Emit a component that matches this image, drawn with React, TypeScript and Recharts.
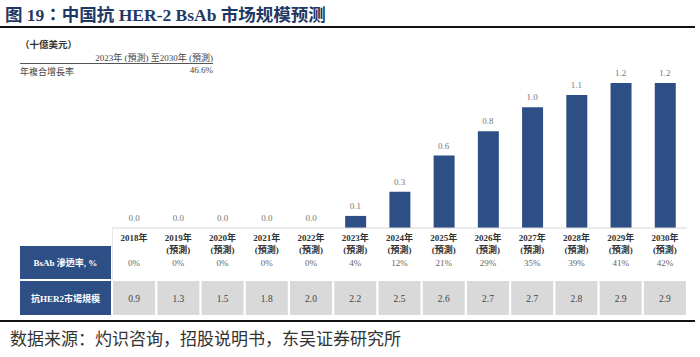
import React from 'react';
import { ComposedChart, Bar, Line, XAxis, YAxis, LabelList } from 'recharts';

const years = ['2018年', '2019年', '2020年', '2021年', '2022年', '2023年', '2024年', '2025年', '2026年', '2027年', '2028年', '2029年', '2030年'];
const forecastFlags = [false, true, true, true, true, true, true, true, true, true, true, true, true];
const bsabMarket = [0.0, 0.0, 0.0, 0.0, 0.0, 0.1, 0.3, 0.6, 0.8, 1.0, 1.1, 1.2, 1.2];
const penetration = ['0%', '0%', '0%', '0%', '0%', '4%', '12%', '21%', '29%', '35%', '39%', '41%', '42%'];
const her2Market = ['0.9', '1.3', '1.5', '1.8', '2.0', '2.2', '2.5', '2.6', '2.7', '2.7', '2.8', '2.9', '2.9'];
const rowLabels = ['BsAb 滲透率, %', '抗HER2市場規模'];

const data = years.map((y, i) => ({ year: y, value: bsabMarket[i] }));

const SERIF = "'Liberation Serif', 'Noto Sans CJK TC', serif";
const CJK = "'Noto Sans CJK SC', sans-serif";
const NAVY = '#2d4f86';

const TableTick = (props: any) => {
  const { x, y, payload, index } = props;
  const i = typeof index === 'number' ? index : years.indexOf(payload.value);
  return (
    <g>
      <text x={x} y={y + 5} textAnchor="middle" fontFamily={SERIF} fontSize={9} fontWeight="bold" fill="#333">
        {payload.value}
      </text>
      {forecastFlags[i] && (
        <text x={x} y={y + 17} textAnchor="middle" fontFamily={SERIF} fontSize={9} fontWeight="bold" fill="#333">
          (預測)
        </text>
      )}
      <text x={x} y={y + 30} textAnchor="middle" fontFamily={SERIF} fontSize={9} fill="#666">
        {penetration[i]}
      </text>
      <rect x={x - 21} y={y + 45} width={42} height={34} fill="#d9d9d9" />
      <text x={x} y={y + 66} textAnchor="middle" fontFamily={SERIF} fontSize={9.5} fill="#444">
        {her2Market[i]}
      </text>
    </g>
  );
};

export default function App() {
  return (
    <div style={{ position: 'absolute', left: 0, top: 0, width: 700, height: 357, background: '#fff' }}>
      <div style={{ position: 'absolute', left: 5, top: 1, fontFamily: SERIF, fontWeight: 'bold', fontSize: 17.5, color: '#1f3864', whiteSpace: 'nowrap' }}>
        图 19：中国抗 HER-2 BsAb 市场规模预测
      </div>
      <div style={{ position: 'absolute', left: 0, top: 26, width: 695, height: 2, background: '#111' }} />
      <div style={{ position: 'absolute', left: 20, top: 37, fontFamily: SERIF, fontWeight: 'bold', fontSize: 9.5, color: '#333' }}>（十億美元）</div>
      <div style={{ position: 'absolute', left: 20, top: 51, width: 193, textAlign: 'right', fontFamily: SERIF, fontSize: 9, color: '#444', whiteSpace: 'nowrap' }}>2023年 (預測) 至2030年 (預測)</div>
      <div style={{ position: 'absolute', left: 20, top: 63, width: 193, height: 1, background: '#555' }} />
      <div style={{ position: 'absolute', left: 20, top: 65, fontFamily: SERIF, fontSize: 9, color: '#444' }}>年複合增長率</div>
      <div style={{ position: 'absolute', left: 20, top: 65, width: 193, textAlign: 'right', fontFamily: SERIF, fontSize: 9, color: '#444' }}>46.6%</div>

      <div style={{ position: 'absolute', left: 0, top: 0 }}>
        <ComposedChart width={700} height={357} data={data} margin={{ top: 83, right: 13, bottom: 39, left: 112 }}>
          <XAxis dataKey="year" interval={0} tickLine={false} axisLine={{ stroke: '#d6d6d6' }} height={90} tick={<TableTick />} />
          <YAxis hide domain={[0, 1.2]} />
          <Bar dataKey="value" fill={NAVY} barSize={21} isAnimationActive={false} />
          <Line dataKey="value" stroke="none" dot={false} activeDot={false} isAnimationActive={false}>
            <LabelList dataKey="value" position="top" offset={7} fontSize={9} fill="#777" fontFamily={SERIF} formatter={(v: any) => Number(v).toFixed(1)} />
          </Line>
        </ComposedChart>
      </div>

      <div style={{ position: 'absolute', left: 112, top: 228, width: 1, height: 52, background: '#e6e6e6' }} />
      <div style={{ position: 'absolute', left: 20, top: 246, width: 91, height: 33, background: NAVY, color: '#fff', fontFamily: SERIF, fontWeight: 'bold', fontSize: 9, display: 'flex', alignItems: 'center', justifyContent: 'center', whiteSpace: 'nowrap' }}>
        {rowLabels[0]}
      </div>
      <div style={{ position: 'absolute', left: 20, top: 281, width: 91, height: 34, background: NAVY, color: '#fff', fontFamily: SERIF, fontWeight: 'bold', fontSize: 9, display: 'flex', alignItems: 'center', justifyContent: 'center', whiteSpace: 'nowrap' }}>
        {rowLabels[1]}
      </div>
      <div style={{ position: 'absolute', left: 0, top: 320, width: 695, height: 2, background: '#111' }} />
      <div style={{ position: 'absolute', left: 10, top: 327, fontFamily: CJK, fontSize: 17, color: '#333', whiteSpace: 'nowrap', lineHeight: '22px' }}>
        数据来源：灼识咨询，招股说明书，东吴证券研究所
      </div>
    </div>
  );
}
